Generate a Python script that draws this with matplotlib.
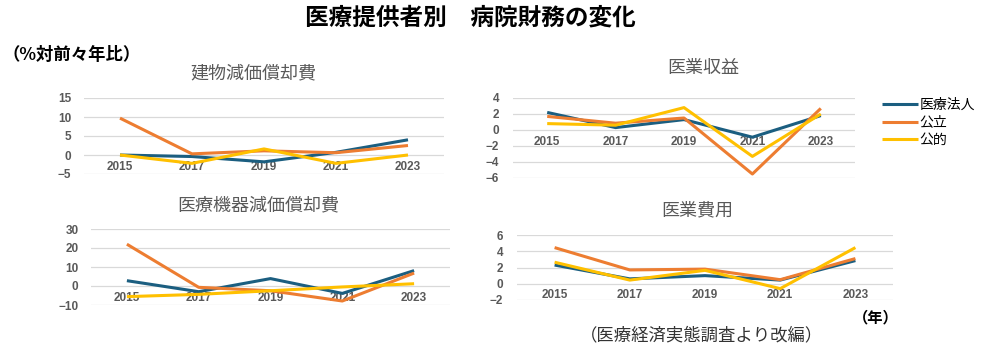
import matplotlib
matplotlib.use("Agg")
import matplotlib.pyplot as plt

plt.rcParams['font.family'] = ['Noto Sans CJK JP', 'DejaVu Sans']

# data (% change vs two years before)
years = ['2015', '2017', '2019', '2021', '2023']
series_names = ['医療法人', '公立', '公的']

building_depr = {
    '医療法人': [0.0, -0.4, -1.8, 0.7, 4.0],
    '公立': [9.7, 0.3, 1.1, 0.6, 2.5],
    '公的': [0.0, -2.2, 1.6, -2.2, 0.0],
}
equipment_depr = {
    '医療法人': [2.8, -3.0, 3.9, -3.9, 8.1],
    '公立': [22.0, -0.7, -2.5, -7.9, 6.8],
    '公的': [-5.6, -4.4, -2.5, -0.5, 1.2],
}
revenue = {
    '医療法人': [2.2, 0.3, 1.3, -0.9, 1.8],
    '公立': [1.7, 0.85, 1.5, -5.5, 2.7],
    '公的': [0.8, 0.6, 2.8, -3.3, 2.0],
}
expenses = {
    '医療法人': [2.3, 0.6, 1.0, 0.45, 2.85],
    '公立': [4.45, 1.7, 1.8, 0.5, 3.1],
    '公的': [2.65, 0.45, 1.65, -0.6, 4.45],
}

colors = {'医療法人': '#1B5E80', '公立': '#ED7D31', '公的': '#FFC000'}
tick_color = '#595959'

W, H = 987, 349
fig = plt.figure(figsize=(W / 100, H / 100), dpi=100)


def add_ax(left, right, top, bottom):
    return fig.add_axes([left / W, 1 - bottom / H, (right - left) / W, (bottom - top) / H])


def draw(ax, data, ylim, yticks, title, title_xy, ypad):
    x = range(len(years))
    for name in series_names:
        ax.plot(x, data[name], color=colors[name], lw=2.2, label=name,
                solid_capstyle='butt')
    ax.set_xlim(-0.5, len(years) - 0.5)
    ax.set_ylim(*ylim)
    ax.set_yticks(yticks)
    ax.set_yticklabels([str(t).replace('-', '−') for t in yticks])
    ax.set_xticks(list(x))
    ax.set_xticklabels(years)
    ax.grid(axis='y', color='#D9D9D9', lw=0.9)
    ax.set_axisbelow(True)
    for s in ax.spines.values():
        s.set_visible(False)
    ax.spines['bottom'].set_position(('data', 0))
    ax.tick_params(axis='both', length=0, colors=tick_color, labelsize=8.5)
    ax.tick_params(axis='y', pad=ypad)
    ax.tick_params(axis='x', pad=4)
    for lab in ax.get_xticklabels() + ax.get_yticklabels():
        lab.set_fontfamily(['Liberation Sans', 'DejaVu Sans'])
        lab.set_fontweight('bold')
    fig.text(title_xy[0] / W, 1 - title_xy[1] / H, title, ha='center', va='center',
             fontsize=13, color=tick_color)


ax1 = add_ax(84, 444, 98, 174)
draw(ax1, building_depr, (-5, 15), [15, 10, 5, 0, -5], '建物減価償却費', (253, 73), 9)

ax2 = add_ax(91, 450, 229, 305)
draw(ax2, equipment_depr, (-10, 30), [30, 20, 10, 0, -10], '医療機器減価償却費', (258, 205), 9)

ax3 = add_ax(513, 855, 98, 178)
draw(ax3, revenue, (-6, 4), [4, 2, 0, -2, -4, -6], '医業収益', (703, 68), 10)
ax3.legend(loc='upper left', bbox_to_anchor=(876 / W, 1 - 92 / H),
           bbox_transform=fig.transFigure, frameon=False, borderaxespad=0,
           handlelength=2.6, handletextpad=0.15, labelspacing=0.28,
           prop={'family': ['Noto Sans CJK JP'], 'size': 10})

ax4 = add_ax(517, 893, 235, 300)
draw(ax4, expenses, (-2, 6), [6, 4, 2, 0, -2], '医業費用', (697, 210), 10)

fig.text(470 / W, 1 - 18 / H, '医療提供者別　病院財務の変化', ha='center', va='center',
         fontsize=17, fontweight='bold', color='black')
fig.text(3 / W, 1 - 55 / H, '（%対前々年比）', ha='left', va='center',
         fontsize=12.5, fontweight='bold', color='black')
fig.text(876 / W, 1 - 317 / H, '（年）', ha='center', va='center',
         fontsize=11, fontweight='bold', color='black')
fig.text(702 / W, 1 - 335 / H, '（医療経済実態調査より改編）', ha='center', va='center',
         fontsize=12.5, color='#333333')

fig.savefig('out.png', dpi=100)
